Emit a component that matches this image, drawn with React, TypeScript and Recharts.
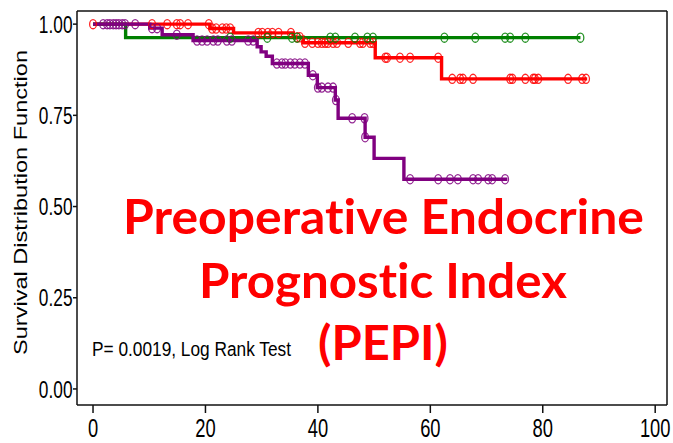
import React from 'react';
import { ComposedChart, Line, Scatter, XAxis, YAxis, ReferenceLine } from 'recharts';

// ---- axis ticks ----
const xTicks = [0, 20, 40, 60, 80, 100];
const yTicks = [0, 0.25, 0.5, 0.75, 1.0];
const yTickLabels = ['0.00', '0.25', '0.50', '0.75', '1.00'];

// ---- Kaplan-Meier step data (time in months, survival) ----
const greenTimes = [0, 5.8, 86.7];
const greenSurv = [1.0, 0.963, 0.963];
const greenCensor = [24.4, 31.0, 35.4, 36.3, 42.2, 43.1, 46.6, 48.8, 49.8, 62.5, 68.0, 73.3, 74.2, 76.9, 86.7];

const redTimes = [0, 20.8, 25.0, 35.6, 37.4, 50.2, 62.0, 87.9];
const redSurv = [1.0, 0.988, 0.976, 0.964, 0.949, 0.908, 0.85, 0.85];
const redCensor = [
  0.0, 10.5, 13.2, 14.9, 15.5, 16.9, 20.6, 21.2, 21.9, 23.0, 23.7, 24.4,
  29.4, 30.1, 31.1, 31.9, 33.0, 35.2, 36.3, 36.8, 37.7, 39.0, 40.0, 40.7,
  41.3, 41.8, 42.7, 43.4, 45.4, 47.5, 48.0, 49.3, 49.8, 52.0, 52.3, 54.6,
  56.4, 61.4, 63.9, 65.3, 65.8, 67.6, 74.2, 74.6, 76.9, 78.3, 78.6, 79.2,
  84.5, 87.0, 87.7,
];

const purpleTimes = [0, 10.1, 12.3, 17.8, 29.2, 29.9, 30.8, 31.9, 38.3, 39.9, 43.1, 43.6, 48.4, 50.0, 55.3, 73.7];
const purpleSurv = [1.0, 0.989, 0.971, 0.955, 0.938, 0.924, 0.912, 0.892, 0.86, 0.826, 0.792, 0.742, 0.69, 0.632, 0.575, 0.575];
const purpleCensor = [
  1.8, 2.5, 3.0, 3.6, 4.1, 4.6, 5.2, 5.7, 7.5, 10.5, 11.4, 14.9, 18.5, 19.4,
  20.3, 21.4, 22.2, 23.8, 24.7, 27.6, 28.5, 32.7, 33.6, 34.2, 35.1, 35.9,
  36.8, 37.7, 39.1, 40.0, 40.7, 41.8, 42.7, 43.2, 46.1, 48.3, 48.4, 56.4,
  61.4, 63.5, 64.9, 67.6, 68.5, 70.3, 71.0, 73.3,
];

const yLabel = 'Survival Distribution Function';
const pText = 'P= 0.0019, Log Rank Test';
const titleLines = ['Preoperative Endocrine', 'Prognostic Index', '(PEPI)'];

const GREEN = '#008000';
const RED = '#ff0000';
const PURPLE = '#800080';

function survivalAt(times: number[], surv: number[], t: number) {
  let s = surv[0];
  for (let i = 0; i < times.length; i++) {
    if (times[i] <= t) s = surv[i];
  }
  return s;
}
const toSteps = (times: number[], surv: number[]) => times.map((t, i) => ({ t, s: surv[i] }));
const toCensor = (times: number[], surv: number[], cens: number[]) =>
  cens.map((t) => ({ t, s: survivalAt(times, surv, t) }));

const greenData = toSteps(greenTimes, greenSurv);
const redData = toSteps(redTimes, redSurv);
const purpleData = toSteps(purpleTimes, purpleSurv);
const greenC = toCensor(greenTimes, greenSurv, greenCensor);
const redC = toCensor(redTimes, redSurv, redCensor);
const purpleC = toCensor(purpleTimes, purpleSurv, purpleCensor);

const FONT = '"Liberation Sans", Arial, Helvetica, sans-serif';
const TITLE_FONT = "Lato, 'Open Sans', sans-serif";

const makeShape = (color: string) => (props: any) => {
  const { cx, cy } = props;
  if (cx == null || cy == null) return <g />;
  return (
    <ellipse cx={cx} cy={cy} rx={3.4} ry={4.6} fill="none" stroke={color} strokeWidth={1.3} strokeOpacity={0.85} />
  );
};

const YTick = (props: any) => {
  const { x, y, payload } = props;
  const idx = yTicks.indexOf(payload.value);
  const label = idx >= 0 ? yTickLabels[idx] : String(payload.value);
  return (
    <g transform={`translate(${x + 1.5},${y})`}>
      <text transform="scale(0.72,1)" textAnchor="end" dy="0.36em" fontSize={24} fontFamily={FONT} fill="#000">
        {label}
      </text>
    </g>
  );
};

const XTick = (props: any) => {
  const { x, y, payload } = props;
  return (
    <g transform={`translate(${x},${y})`}>
      <text transform="scale(0.72,1)" textAnchor="middle" y={21.5} fontSize={25.5} fontFamily={FONT} fill="#000">
        {String(payload.value)}
      </text>
    </g>
  );
};

const X_DOMAIN: [number, number] = [-2.85, 102.1];
const Y_DOMAIN: [number, number] = [-0.044, 1.036];
const AXIS_STYLE = { stroke: '#111', strokeWidth: 1.5 };

export default function App() {
  const titleStyle: React.CSSProperties = { fontVariantLigatures: 'none', fontFeatureSettings: '"liga" 0, "dlig" 0' };
  return (
    <div style={{ position: 'absolute', left: 0, top: 0, width: 673, height: 443, background: '#fff' }}>
      <ComposedChart width={673} height={443} margin={{ top: 11, right: 6, left: 0, bottom: 0 }}>
        <XAxis
          xAxisId="x"
          type="number"
          dataKey="t"
          domain={X_DOMAIN}
          ticks={xTicks}
          allowDataOverflow
          height={38}
          tickSize={8}
          axisLine={AXIS_STYLE}
          tickLine={AXIS_STYLE}
          tick={<XTick />}
          interval={0}
        />
        <YAxis
          yAxisId="y"
          type="number"
          dataKey="s"
          domain={Y_DOMAIN}
          ticks={yTicks}
          allowDataOverflow
          width={77}
          tickSize={4}
          axisLine={AXIS_STYLE}
          tickLine={AXIS_STYLE}
          tick={<YTick />}
          interval={0}
        />
        <ReferenceLine xAxisId="x" yAxisId="y" y={Y_DOMAIN[1]} stroke="#111" strokeWidth={1.5} ifOverflow="visible" />
        <ReferenceLine xAxisId="x" yAxisId="y" x={X_DOMAIN[1]} stroke="#111" strokeWidth={1.5} ifOverflow="visible" />
        <Line xAxisId="x" yAxisId="y" data={redData} dataKey="s" type="stepAfter" stroke={RED} strokeWidth={3.4} dot={false} activeDot={false} isAnimationActive={false} />
        <Line xAxisId="x" yAxisId="y" data={greenData} dataKey="s" type="stepAfter" stroke={GREEN} strokeWidth={3.4} dot={false} activeDot={false} isAnimationActive={false} />
        <Line xAxisId="x" yAxisId="y" data={purpleData} dataKey="s" type="stepAfter" stroke={PURPLE} strokeWidth={3.4} dot={false} activeDot={false} isAnimationActive={false} />
        <Scatter xAxisId="x" yAxisId="y" data={redC} dataKey="s" shape={makeShape(RED)} isAnimationActive={false} />
        <Scatter xAxisId="x" yAxisId="y" data={greenC} dataKey="s" shape={makeShape(GREEN)} isAnimationActive={false} />
        <Scatter xAxisId="x" yAxisId="y" data={purpleC} dataKey="s" shape={makeShape(PURPLE)} isAnimationActive={false} />
      </ComposedChart>
      <svg width={673} height={443} style={{ position: 'absolute', left: 0, top: 0, pointerEvents: 'none' }}>
        <g transform="translate(0,202.5) scale(0.8,1) rotate(-90)">
          <text x={0} y={34} textAnchor="middle" fontSize={24} fontFamily={FONT} fill="#000" textLength={305} lengthAdjust="spacingAndGlyphs">
            {yLabel}
          </text>
        </g>
        <text x={92} y={356} fontSize={20} fontFamily={FONT} fill="#000" textLength={199} lengthAdjust="spacingAndGlyphs">
          {pText}
        </text>
        <text x={123} y={234} style={titleStyle} fontSize={47} fontWeight={700} fontFamily={TITLE_FONT} fill={RED} textLength={521} lengthAdjust="spacingAndGlyphs">
          {titleLines[0]}
        </text>
        <text x={199} y={298} style={titleStyle} fontSize={47} fontWeight={700} fontFamily={TITLE_FONT} fill={RED} textLength={368} lengthAdjust="spacingAndGlyphs">
          {titleLines[1]}
        </text>
        <text x={318} y={360} style={titleStyle} fontSize={47} fontWeight={700} fontFamily={TITLE_FONT} fill={RED} textLength={130} lengthAdjust="spacingAndGlyphs">
          {titleLines[2]}
        </text>
      </svg>
    </div>
  );
}
